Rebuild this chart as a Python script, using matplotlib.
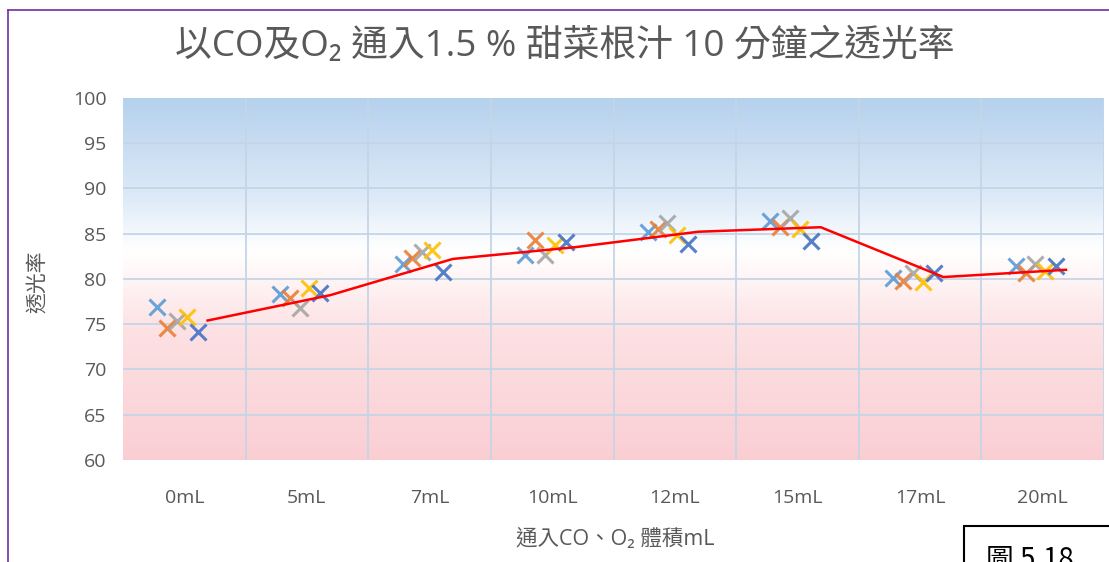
import numpy as np
import matplotlib.pyplot as plt
from matplotlib.colors import LinearSegmentedColormap
from matplotlib.lines import Line2D
from matplotlib.patches import Rectangle

plt.rcParams['font.family'] = ['Open Sans', 'Noto Sans CJK TC', 'DejaVu Sans']

# === 資料 ===
categories = ['0mL', '5mL', '7mL', '10mL', '12mL', '15mL', '17mL', '20mL']
trial_1 = [76.9, 78.3, 81.6, 82.6, 85.2, 86.4, 80.1, 81.4]
trial_2 = [74.6, 77.9, 82.3, 84.3, 85.5, 85.7, 79.8, 80.6]
trial_3 = [75.4, 76.8, 83.0, 82.6, 86.2, 86.7, 80.6, 81.6]
trial_4 = [75.8, 79.0, 83.2, 83.7, 84.8, 85.5, 79.6, 80.9]
trial_5 = [74.1, 78.4, 80.8, 84.1, 83.8, 84.2, 80.6, 81.4]
average = [75.4, 78.2, 82.2, 83.5, 85.2, 85.7, 80.2, 81.0]

trials = [trial_1, trial_2, trial_3, trial_4, trial_5]
colors = ['#5B9BD5', '#ED7D31', '#A5A5A5', '#FFC000', '#4472C4']
offsets = [-0.22, -0.14, -0.06, 0.02, 0.11]

gray = '#595959'

fig = plt.figure(figsize=(11.09, 5.62), dpi=100)
ax = fig.add_axes([123 / 1109, 1 - 460 / 562, 981 / 1109, 362.3 / 562])

x = np.arange(len(categories))
ax.set_xlim(-0.5, 7.5)
ax.set_ylim(60, 100)

# 背景漸層：上藍下粉紅
grad = LinearSegmentedColormap.from_list('bg', [
    (0.0, (0.98, 0.81, 0.83)),
    (0.35, (0.99, 0.88, 0.89)),
    (0.52, (1.0, 0.97, 0.97)),
    (0.58, (1.0, 1.0, 1.0)),
    (0.72, (0.87, 0.92, 0.97)),
    (1.0, (0.71, 0.82, 0.93)),
])
ax.imshow(np.linspace(0, 1, 256).reshape(-1, 1), cmap=grad, origin='lower',
          extent=[-0.5, 7.5, 60, 100], aspect='auto', zorder=0)

# 格線
grid_c = '#C5D5E6'
ax.hlines(np.arange(65, 100, 5), -0.5, 7.5, colors=grid_c, lw=1.3, zorder=1)
ax.vlines(np.arange(0.5, 8, 1), 60, 100, colors=grid_c, lw=1.3, zorder=1)

for vals, c, off in zip(trials, colors, offsets):
    ax.plot(x + off, vals, ls='none', marker='x', ms=11, mew=2.2,
            color=c, alpha=0.9, zorder=3)

ax.plot(x + 0.19, average, color='red', lw=1.8, zorder=4)

for s in ax.spines.values():
    s.set_visible(False)
ax.set_xticks(x)
ax.set_xticklabels(categories)
ax.set_yticks(np.arange(60, 101, 5))
ax.tick_params(axis='both', length=0, labelsize=14, colors=gray)
ax.tick_params(axis='x', pad=21)
ax.tick_params(axis='y', pad=12)

fig.text(565 / 1109, 1 - 47 / 562, '以CO及O₂ 通入1.5 % 甜菜根汁 10 分鐘之透光率',
         ha='center', va='center', fontsize=26.5, color=gray)
fig.text(37 / 1109, 1 - 282 / 562, '透光率', rotation=90,
         ha='center', va='center', fontsize=15, color=gray)
fig.text(615 / 1109, 1 - 539 / 562, '通入CO、O₂ 體積mL',
         ha='center', va='center', fontsize=15.5, color=gray)

# 外框（紫色）
fig.add_artist(Line2D([8 / 1109, 8 / 1109], [0, 1 - 10 / 562],
                      color='#7030A0', lw=1.2))
fig.add_artist(Line2D([8 / 1109, 1], [1 - 10 / 562, 1 - 10 / 562],
                      color='#7030A0', lw=1.2))

# 圖號框
fig.add_artist(Rectangle((964 / 1109, -0.05), 0.2, 0.05 + 36 / 562,
                         transform=fig.transFigure, fill=False,
                         ec='black', lw=1.5))
fig.text(986 / 1109, 1 - 545 / 562, '圖 5.18', ha='left', va='top',
         fontsize=20, color='black',
         family=['Noto Sans CJK TC', 'DejaVu Sans'])

fig.savefig('out.png', dpi=100)
